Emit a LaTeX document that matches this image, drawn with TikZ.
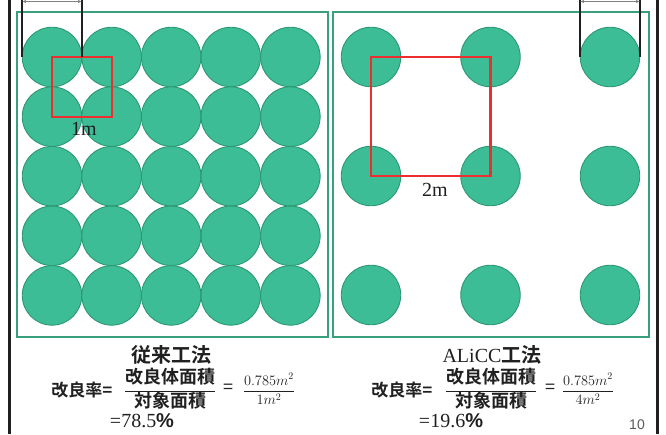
\documentclass[tikz,border=0pt]{standalone}
\usepackage{fontspec}
\setmainfont{Liberation Serif}
\newfontfamily\jp{Noto Sans CJK JP}[BoldFont={Noto Sans CJK JP Bold}]
\newfontfamily\sans{Liberation Sans}
\usetikzlibrary{arrows.meta}
\definecolor{verde}{RGB}{61, 189, 150}
\definecolor{verdeosc}{RGB}{44, 152, 115}
\definecolor{marco}{RGB}{58, 160, 124}
\definecolor{rojo}{RGB}{236, 46, 46}
\definecolor{negro}{RGB}{32, 32, 32}
\tikzset{
    pile/.style={circle, fill=verde, draw=verdeosc, line width=0.9pt, minimum size=59.5pt, inner sep=0pt},
    panel/.style={draw=marco, line width=1.3pt},
    cell/.style={draw=rojo, line width=2.2pt},
    guide/.style={draw=negro, line width=2pt},
    dim/.style={draw=gray, line width=0.7pt, {Latex[length=4pt,width=3pt]}-{Latex[length=4pt,width=3pt]}},
    lbl/.style={inner sep=0pt, font=\fontsize{20}{22}\selectfont, text=negro},
    jtxt/.style={inner sep=0pt, font=\jp\bfseries\fontsize{18}{20}\selectfont, text=negro},
    small/.style={inner sep=0pt, font=\fontsize{14}{16}\selectfont, text=negro},
}

\begin{document}
\begin{tikzpicture}[x=1pt, y=-1pt]
    \useasboundingbox (0,0) rectangle (666,434);

    % side rules
    \draw [negro, line width=2.5pt] (9.5,0) -- (9.5,434);
    \draw [negro, line width=2.5pt] (657.5,0) -- (657.5,434);

    % panels
    \draw [panel] (17,12) rectangle (328,337);
    \draw [panel] (333,12) rectangle (649,337);

    % conventional layout: 5 x 5 piles
    \foreach \i in {1,...,5}
        \foreach \j in {1,...,5}
            \node [pile] (a\i\j) at ({52+59.6*(\j-1)}, {57+59.6*(\i-1)}) {};

    % ALiCC layout: 3 x 3 piles
    \foreach \i in {1,2,3}
        \foreach \j in {1,2,3}
            \node [pile] (b\i\j) at ({371+119.5*(\j-1)}, {57+119*(\i-1)}) {};

    % unit cells
    \draw [cell] (a11.center) rectangle (a22.center);
    \draw [cell] (b11.center) rectangle (b22.center);
    \node [lbl] (oneM) at (84,129) {1m};
    \node [lbl] (twoM) at (435,190) {2m};

    % diameter marks
    \coordinate (topL1) at (a11.west |- 0,0);
    \coordinate (topL2) at (a11.east |- 0,0);
    \coordinate (topR1) at (b13.west |- 0,0);
    \coordinate (topR2) at (b13.east |- 0,0);
    \draw [guide] (topL1) -- (a11.west);
    \draw [guide] (topL2) -- (a11.east);
    \draw [guide] (topR1) -- (b13.west);
    \draw [guide] (topR2) -- (b13.east);
    \draw [dim] ([yshift=-1.5pt]topL1) -- ([yshift=-1.5pt]topL2);
    \draw [dim] ([yshift=-1.5pt]topR1) -- ([yshift=-1.5pt]topR2);

    % ratio, conventional
    \node [jtxt, font=\jp\bfseries\fontsize{20}{22}\selectfont] (ttlL) at (171,355) {従来工法};
    \node [jtxt, font=\jp\bfseries\fontsize{17}{19}\selectfont] (rateL) at (82,390) {改良率=};
    \node [jtxt] (fracL) at (170,389) {$\displaystyle\frac{\mbox{改良体面積}}{\mbox{対象面積}}$};
    \node [jtxt, font=\jp\fontsize{18}{20}\selectfont] (eqL) at (228,389) {=};
    \node [small] (valL) at (269,389) {$\displaystyle\frac{0.785m^2}{1m^2}$};
    \node [lbl] (resL) at (142,421) {=78.5{\sans\bfseries\%}};

    % ratio, ALiCC
    \node [lbl] (ttlR) at (492,355) {ALiCC{\jp\bfseries 工法}};
    \node [jtxt, font=\jp\bfseries\fontsize{17}{19}\selectfont] (rateR) at (402,390) {改良率=};
    \node [jtxt] (fracR) at (491,389) {$\displaystyle\frac{\mbox{改良体面積}}{\mbox{対象面積}}$};
    \node [jtxt, font=\jp\fontsize{18}{20}\selectfont] (eqR) at (550,389) {=};
    \node [small] (valR) at (588,389) {$\displaystyle\frac{0.785m^2}{4m^2}$};
    \node [lbl] (resR) at (451,421) {=19.6{\sans\bfseries\%}};

    \node [inner sep=0pt, font=\sans\fontsize{14}{16}\selectfont, text=gray!70!black] (page) at (637,425) {10};
\end{tikzpicture}
\end{document}
